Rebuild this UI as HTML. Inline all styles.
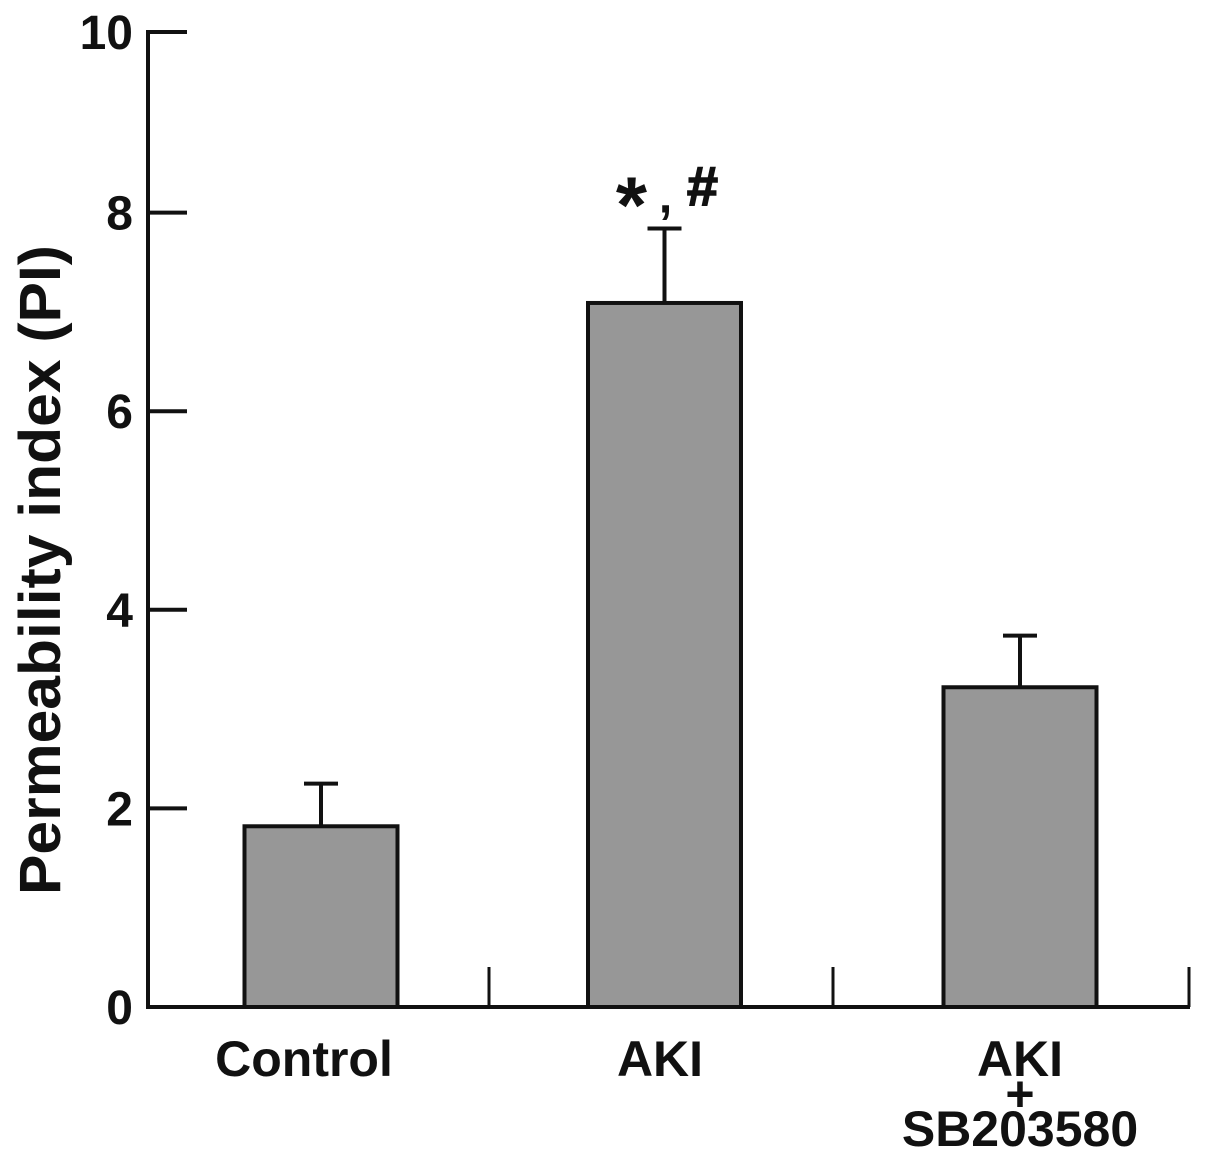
<!DOCTYPE html>
<html><head><meta charset="utf-8"><style>
html,body{margin:0;padding:0;background:#fff}
svg{display:block}
text{font-family:"Liberation Sans",Arial,sans-serif;font-weight:bold;fill:#111}
</style></head><body>
<svg id="chart" width="1205" height="1162" viewBox="0 0 1205 1162"></svg>
<script>
const categories = ["Control", "AKI", "AKI+SB203580"];
const values = [1.82, 7.09, 3.22];
const errors = [0.43, 0.75, 0.52];
const yTicks = [0, 2, 4, 6, 8, 10];

const NS = "http://www.w3.org/2000/svg";
const svg = document.getElementById("chart");
const y0 = 1007, perUnit = 99.3, axisTop = 32, axisX = 148, axisRight = 1190;
function y(v){ return Math.max(axisTop, y0 - v*perUnit); }
function xc(i){ return [321, 664.5, 1020][i]; }
const barW = 153;
function mk(tag, attrs){ const e = document.createElementNS(NS, tag); for (const k in attrs) e.setAttribute(k, attrs[k]); svg.appendChild(e); return e; }

categories.forEach((c,i)=>{
  const cx = xc(i);
  const top = y(values[i] + errors[i]);
  const el = mk("line",{x1:cx,x2:cx,y1:top,y2:y(values[i]),stroke:"#111","stroke-width":4});
  
  
  const cap = mk("line",{x1:cx-17,x2:cx+17,y1:top,y2:top,stroke:"#111","stroke-width":4});
  
  
  const r = mk("rect",{x:cx-barW/2,y:y(values[i]),width:barW,height:y0-y(values[i]),fill:"#979797",stroke:"#111","stroke-width":4});
  
  
});
const aTop = y(values[1] + errors[1]);
const star = mk("text",{x:xc(1)-33,y:aTop+4,"text-anchor":"middle","font-size":80});
star.textContent = "*";


const comma = mk("text",{x:xc(1)+1,y:aTop-16,"text-anchor":"middle","font-size":48});
comma.textContent = ",";


const hash = mk("text",{x:xc(1)+38,y:aTop-23,"text-anchor":"middle","font-size":56,stroke:"#111","stroke-width":1.5});
hash.textContent = "#";



const ya = mk("line",{x1:axisX,x2:axisX,y1:axisTop-2,y2:y0+2,stroke:"#111","stroke-width":4});


const xa = mk("line",{x1:axisX-2,x2:axisRight,y1:y0,y2:y0,stroke:"#111","stroke-width":4});


yTicks.forEach(v=>{
  const ty = y(v);
  if (v>0){
    const t = mk("line",{x1:axisX,x2:187,y1:ty,y2:ty,stroke:"#111","stroke-width":4});
    
    
  }
  const l = mk("text",{x:133,y:ty+17,"text-anchor":"end","font-size":48});
  l.textContent = v;
  
  
});
[489, 833, 1189].forEach(x=>{
  const t = mk("line",{x1:x,x2:x,y1:967,y2:y0,stroke:"#111","stroke-width":3});
  
  
});
const lab = [["Control"],["AKI"],["AKI","+","SB203580"]];
const labX = [304, 660, 1020];
lab.forEach((lines,i)=>{
  lines.forEach((s,j)=>{
    const t = mk("text",{x:labX[i],y:1076+j*35,"text-anchor":"middle","font-size":50});
    t.textContent = s;
    
    
  });
});
const yt = mk("text",{x:0,y:0,"text-anchor":"middle","font-size":58,textLength:650,lengthAdjust:"spacingAndGlyphs",transform:"translate(60,570) rotate(-90)"});
yt.textContent = "Permeability index (PI)";


</script>
</body></html>
